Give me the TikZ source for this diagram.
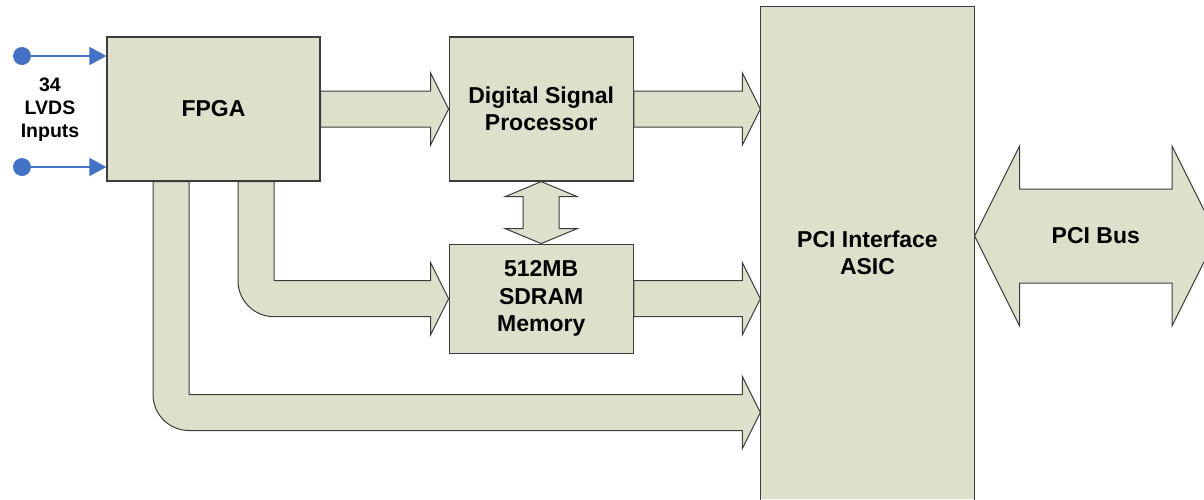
\documentclass[tikz,border=0pt]{standalone}
\usepackage{fontspec}
\setmainfont{Liberation Sans}
\usetikzlibrary{positioning,calc,arrows.meta}

\definecolor{blockfill}{RGB}{221,224,203}
\definecolor{blockline}{RGB}{60,60,60}
\definecolor{inblue}{RGB}{68,114,196}

% wide straight arrow, left to right
\newcommand{\blockarrow}[2]{%
	\draw[fat] let \p1=(#1), \p2=(#2) in
		(\x1,\y1+18) -- (\x2-18,\y1+18) -- (\x2-18,\y1+36) -- (\x2,\y1)
		-- (\x2-18,\y1-36) -- (\x2-18,\y1-18) -- (\x1,\y1-18) -- cycle;
}
% wide arrow going down then right, round outer corner
\newcommand{\elbowarrow}[2]{%
	\draw[fat] let \p1=(#1), \p2=(#2) in
		(\x1-18,\y1) -- (\x1-18,\y2+18) arc[start angle=180, end angle=270, radius=36pt]
		-- (\x2-18,\y2-18) -- (\x2-18,\y2-36) -- (\x2,\y2) -- (\x2-18,\y2+36)
		-- (\x2-18,\y2+18) -- (\x1+18,\y2+18) -- (\x1+18,\y1) -- cycle;
}

\begin{document}
\begin{tikzpicture}[
		x=1pt, y=-1pt,
		node distance=62pt and 128pt,
		box/.style={
				draw=blockline,
				fill=blockfill,
				line width=1.2pt,
				inner sep=0pt,
				align=center,
				font=\bfseries\fontsize{23}{27.5}\selectfont
			},
		fat/.style={draw=blockline, fill=blockfill, line width=1pt, line join=miter},
		dot/.style={circle, fill=inblue, inner sep=0pt, minimum size=18pt},
		inarrow/.style={draw=inblue, line width=1.5pt, -{Triangle[length=17pt,width=18pt]}}
	]
	\useasboundingbox (0,0) rectangle (1204,499);
	\clip (0,0) rectangle (1204,499);

	\node[box, minimum width=213pt, minimum height=144pt] (fpga) at (213.5,109) {FPGA};
	\node[box, minimum width=184pt, minimum height=144pt, right=of fpga] (dsp) {Digital Signal\\Processor};
	\node[box, minimum width=184pt, minimum height=109pt, below=of dsp] (sdram) {512MB\\SDRAM\\Memory};
	\node[box, draw=none, minimum width=213pt, minimum height=492pt] (pci) at (867.5,253) {PCI Interface\\ASIC};
	\draw[blockline, line width=1.2pt] (pci.south west) |- (pci.north east) -- (pci.south east);

	% inputs
	\node[dot] (inA) at (22,56) {};
	\node[dot] (inB) at (22,167) {};
	\draw[inarrow] (inA) -- (inA -| fpga.west);
	\draw[inarrow] (inB) -- (inB -| fpga.west);
	\node[align=center, inner sep=0pt, font=\bfseries\fontsize{19.5}{23}\selectfont] (inlbl) at (50,110) {34\\LVDS\\Inputs};

	% data paths
	\blockarrow{fpga.east}{dsp.west}
	\blockarrow{dsp.east}{pci.west |- dsp.east}
	\blockarrow{sdram.east}{pci.west |- sdram.east}
	\path (pci.west) ++(0,159.5) coordinate (pcilow);
	\elbowarrow{$(fpga.south)+(42.5,0)$}{sdram.west}
	\elbowarrow{$(fpga.south)+(-42.5,0)$}{pcilow}

	% dsp <-> sdram
	\draw[fat] let \p1=(dsp.south), \p2=(sdram.north) in
		(\x1,\y1) -- (\x1+36,\y1-15) -- (\x1+18,\y1-15) -- (\x1+18,\y2+15) -- (\x1+36,\y2+15)
		-- (\x1,\y2) -- (\x1-36,\y2+15) -- (\x1-18,\y2+15) -- (\x1-18,\y1-15) -- (\x1-36,\y1-15) -- cycle;

	% pci bus
	\path (pci.east) ++(0,-17) coordinate (busin);
	\coordinate (busend) at (1217,236);
	\draw[fat] let \p1=(busin), \p2=(busend) in
		(\x1,\y1) -- (\x1+45,\y1+90) -- (\x1+45,\y1+47) -- (\x2-45,\y1+47) -- (\x2-45,\y1+90)
		-- (\x2,\y1) -- (\x2-45,\y1-90) -- (\x2-45,\y1-47) -- (\x1+45,\y1-47) -- (\x1+45,\y1-90) -- cycle;
	\node[inner sep=0pt, font=\bfseries\fontsize{23}{27.5}\selectfont] (buslbl) at ($(busin)!0.5!(busend)$) {PCI Bus};
\end{tikzpicture}
\end{document}
